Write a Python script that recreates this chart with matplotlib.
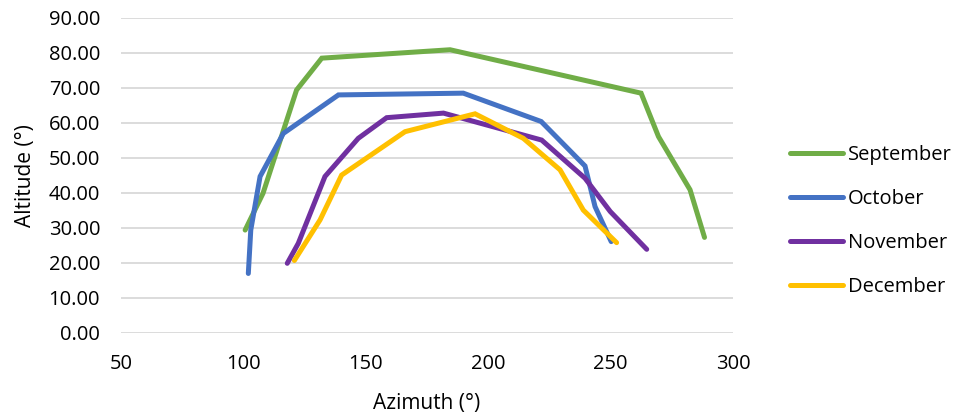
import matplotlib.pyplot as plt
from matplotlib.ticker import FormatStrFormatter

# Sun path points (azimuth, altitude in degrees)
sep_az = [100.7, 108.0, 121.7, 132.0, 184.4, 262.4, 269.5, 282.4, 288.3]
sep_alt = [29.4, 39.9, 69.4, 78.5, 80.9, 68.5, 56.1, 40.9, 27.3]

oct_az = [102.0, 103.0, 106.8, 116.3, 138.8, 189.8, 221.6, 239.5, 243.6, 250.2]
oct_alt = [17.0, 29.4, 44.7, 57.0, 68.0, 68.5, 60.4, 47.7, 36.1, 26.1]

nov_az = [117.9, 122.4, 133.3, 146.9, 158.5, 181.7, 221.8, 239.5, 249.8, 264.7]
nov_alt = [19.9, 25.6, 44.7, 55.6, 61.5, 62.8, 55.1, 44.2, 34.7, 23.9]

dec_az = [120.8, 131.3, 140.1, 166.0, 194.6, 214.3, 229.3, 238.8, 252.4]
dec_alt = [20.7, 32.3, 45.1, 57.5, 62.6, 55.6, 46.6, 35.1, 25.8]

series = [
    ("September", sep_az, sep_alt, "#70AD47"),
    ("October", oct_az, oct_alt, "#4472C4"),
    ("November", nov_az, nov_alt, "#7030A0"),
    ("December", dec_az, dec_alt, "#FFC000"),
]

plt.rcParams["font.family"] = ["Open Sans", "DejaVu Sans"]

fig = plt.figure(figsize=(9.58, 4.19), dpi=100)
ax = fig.add_axes([0.1263, 0.2053, 0.639, 0.752])

for name, az, alt, color in series:
    ax.plot(az, alt, color=color, linewidth=3.6, label=name,
            solid_joinstyle="miter", solid_capstyle="round")

ax.set_xlim(50, 300)
ax.set_ylim(0, 90)
ax.set_xticks(range(50, 301, 50))
ax.set_yticks(range(0, 91, 10))
ax.yaxis.set_major_formatter(FormatStrFormatter("%.2f"))
ax.grid(axis="y", color="#d9d9d9", linewidth=1.3)
ax.set_axisbelow(True)
for s in ax.spines.values():
    s.set_visible(False)
ax.tick_params(length=0, labelsize=14.5, colors="#000000", pad=15)
ax.tick_params(axis="x", pad=15)
ax.set_xlabel("Azimuth (°)", fontsize=15, labelpad=14)
ax.set_ylabel("Altitude (°)", fontsize=15, labelpad=9)

fig.legend(loc="center left", bbox_to_anchor=(0.806, 0.472), frameon=False,
           fontsize=14.5, handlelength=2.6, handletextpad=0.25, labelspacing=1.2)

fig.savefig("out.png", dpi=100)
